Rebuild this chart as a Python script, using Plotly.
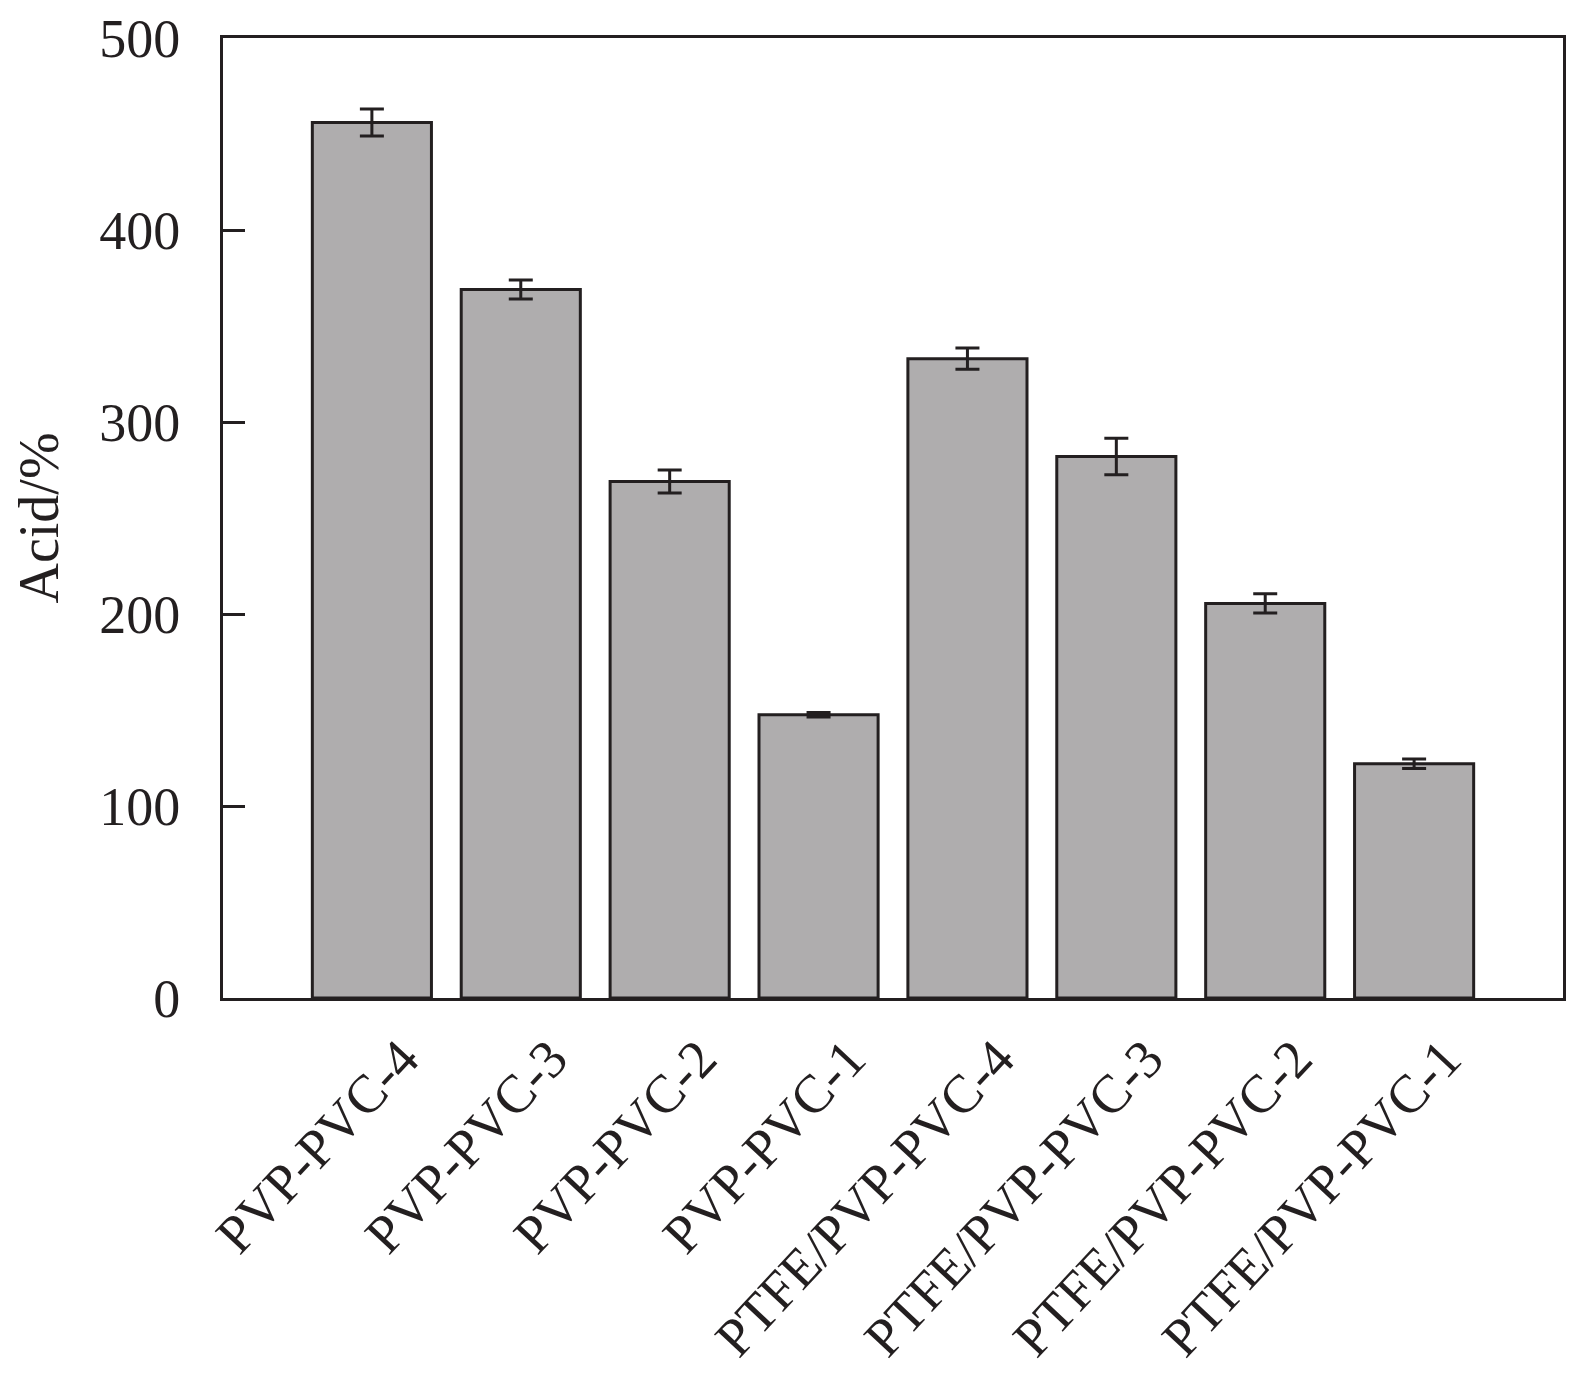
import plotly.graph_objects as go

categories = ["PVP-PVC-4", "PVP-PVC-3", "PVP-PVC-2", "PVP-PVC-1",
              "PTFE/PVP-PVC-4", "PTFE/PVP-PVC-3", "PTFE/PVP-PVC-2", "PTFE/PVP-PVC-1"]
values = [456, 369, 269, 147.5, 333, 282, 205.5, 122]
errors = [7, 5, 6, 1.2, 5.5, 9.5, 5, 2.5]
y_ticks = [0, 100, 200, 300, 400, 500]

dark = "#231f20"
font = "Liberation Serif"
fs = 54

fig = go.Figure(go.Bar(
    x=list(range(len(categories))), y=values, width=0.8,
    marker=dict(color="#afadae", line=dict(color=dark, width=3)),
    error_y=dict(type="data", array=errors, visible=True, color=dark, thickness=3, width=12),
))
fig.update_layout(
    width=1559, height=1373,
    margin=dict(l=215, r=4, t=30, b=383, autoexpand=False),
    plot_bgcolor="white", paper_bgcolor="white",
    showlegend=False,
    font=dict(family=font, size=fs, color=dark),
)
fig.update_xaxes(
    range=[-1, 8], tickmode="array", tickvals=list(range(len(categories))), ticktext=categories,
    tickangle=-47, showline=True, linecolor=dark, linewidth=3, mirror=True, automargin=False,
    showgrid=False, zeroline=False, ticks="", tickfont=dict(family=font, size=fs, color=dark),
    ticklabelshift=30, ticklabelstandoff=4, ticklabeloverflow="allow",
)
fig.update_yaxes(
    range=[0, 500], tickvals=y_ticks, ticks="inside", ticklen=22, tickwidth=3, tickcolor=dark,
    showline=True, linecolor=dark, linewidth=3, mirror=True, showgrid=False, zeroline=False,
    automargin=False, ticklabelstandoff=29, ticklabeloverflow="allow",
    title=dict(text="Acid/%", font=dict(family=font, size=fs + 2, color=dark), standoff=40),
    tickfont=dict(family=font, size=fs, color=dark),
)
fig.write_html("out.html")
